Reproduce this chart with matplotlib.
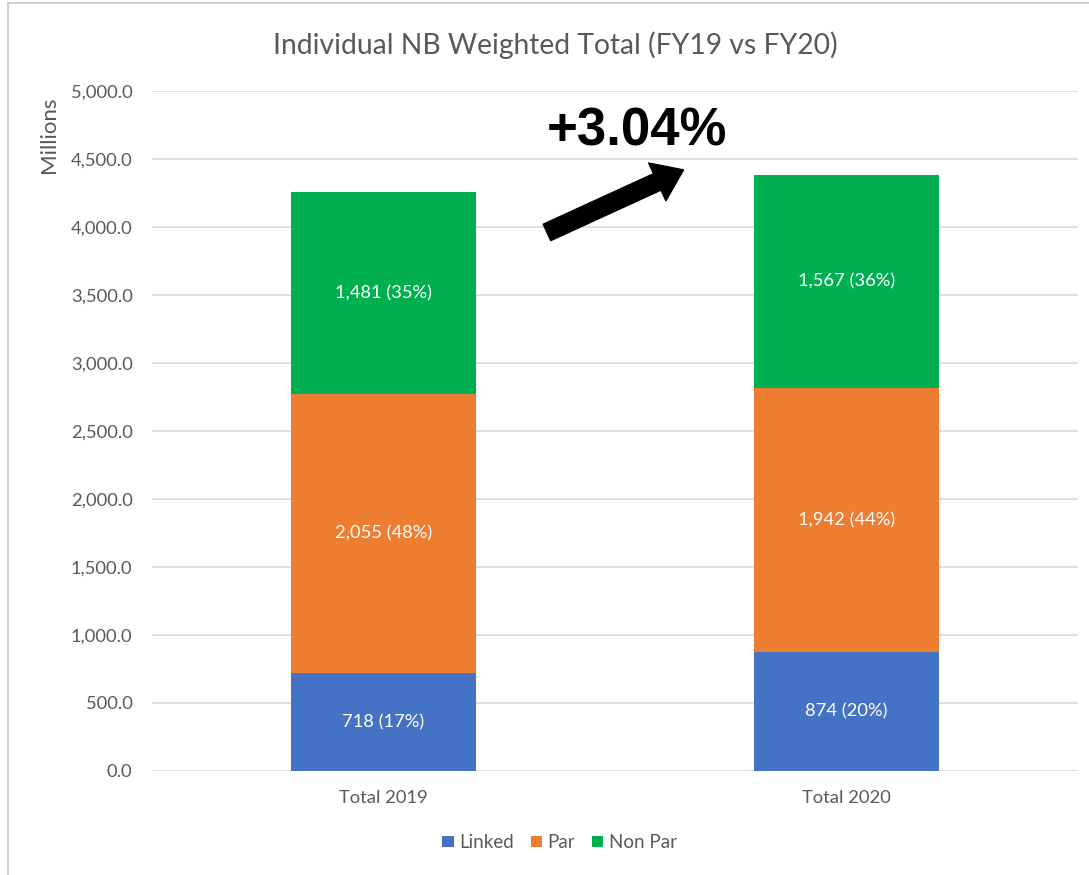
import numpy as np
import matplotlib
matplotlib.use("Agg")
import matplotlib.pyplot as plt
from matplotlib.patches import Rectangle

# Chart data
categories = ['Total 2019', 'Total 2020']
series_names = ['Linked', 'Par', 'Non Par']
linked = [718, 874]
par = [2055, 1942]
non_par = [1481, 1567]
pct_labels = [['17%', '20%'], ['48%', '44%'], ['35%', '36%']]
growth_label = '+3.04%'
y_ticks = np.arange(0, 5001, 500)

colors = ['#4472C4', '#ED7D31', '#00B050']
grey = '#595959'
plt.rcParams['font.family'] = ['Lato', 'DejaVu Sans']

fig = plt.figure(figsize=(10.89, 8.75), dpi=100)
ax = fig.add_axes([0.1396, 0.1189, 0.8503, 0.7771])

x = np.arange(len(categories))
series = [linked, par, non_par]
bottom = np.zeros(len(categories))
for vals, name, col, pcts in zip(series, series_names, colors, pct_labels):
    vals = np.array(vals)
    ax.bar(x, vals, 0.4, bottom=bottom, color=col, label=name, zorder=3)
    for xi, v, b, p in zip(x, vals, bottom, pcts):
        ax.text(xi, b + v / 2, f'{v:,} ({p})', ha='center', va='center',
                color='white', fontsize=13.2, zorder=4)
    bottom = bottom + vals

ax.set_xlim(-0.5, 1.5)
ax.set_ylim(0, 5000)
ax.set_yticks(y_ticks)
ax.set_yticklabels([f'{v:,.1f}' for v in y_ticks])
ax.set_xticks(x)
ax.set_xticklabels(categories)
ax.tick_params(length=0, colors=grey, labelsize=13.2)
ax.tick_params(axis='y', pad=14)
ax.tick_params(axis='x', pad=14)
ax.grid(axis='y', color='#d9d9d9', linewidth=1.2, zorder=0)
for s in ax.spines.values():
    s.set_visible(False)

ax.set_ylabel('Millions', color=grey, fontsize=16)
ax.yaxis.set_label_coords(-0.1, 0.935)

fig.text(0.51, 0.948, 'Individual NB Weighted Total (FY19 vs FY20)',
         ha='center', va='center', color=grey, fontsize=20.3)

# growth arrow and label
ax.annotate('', xy=(0.648, 4420), xytext=(0.353, 3960),
            arrowprops=dict(arrowstyle='simple,head_width=2.3,head_length=1.6,tail_width=1.0',
                            color='black', mutation_scale=13, shrinkA=0, shrinkB=0),
            zorder=5)
ax.text(0.548, 4700, growth_label, ha='center', va='center', fontsize=38,
        fontweight='bold', family='Liberation Sans', color='black')

leg = fig.legend(loc='center', bbox_to_anchor=(0.514, 0.037), ncol=3, frameon=False,
                 fontsize=13.5, handlelength=0.6, handleheight=0.6, handletextpad=0.3,
                 columnspacing=0.9)
for t in leg.get_texts():
    t.set_color(grey)

# outer chart border
fig.patches.append(Rectangle((8 / 1089, -0.1), 1.2, 1.1 - 3 / 875, transform=fig.transFigure,
                             fill=False, edgecolor='#d0d0d0', linewidth=1.5))

fig.savefig('out.png', dpi=100)
